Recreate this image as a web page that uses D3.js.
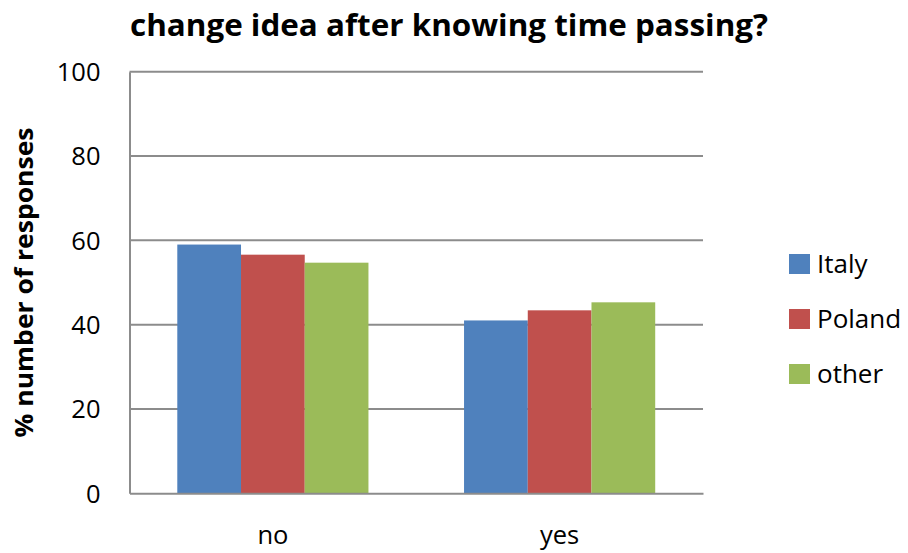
<!DOCTYPE html>
<html>
<head>
<meta charset="utf-8">
<script src="https://cdn.jsdelivr.net/npm/d3@7"></script>
<style>
  html, body { margin: 0; padding: 0; background: #fff; }
  svg { display: block; font-family: "Open Sans", "Liberation Sans", sans-serif; }
</style>
</head>
<body>
<svg id="chart" width="908" height="553"></svg>
<script>
const categories = ["no", "yes"];
const seriesNames = ["Italy", "Poland", "other"];
const italy = [59.0, 41.0];
const poland = [56.6, 43.4];
const other = [54.7, 45.3];
const yTicks = [0, 20, 40, 60, 80, 100];
const colors = ["#4f81bd", "#c0504d", "#9bbb59"];
const titleText = "change idea after knowing time passing?";
const yLabel = "% number of responses";

const seriesValues = [italy, poland, other];

const svg = d3.select("#chart");
const margin = { left: 129.5, right: 908 - 703, top: 71.7, bottom: 553 - 493.3 };
const W = 908, H = 553;

const x = d3.scaleBand().domain(categories).range([margin.left, W - margin.right]).paddingInner(0).paddingOuter(0);
const gapRatio = 1.5;
const x1 = d3.scaleBand().domain(seriesNames)
  .range([x.bandwidth() * (gapRatio / 2) / (3 + gapRatio), x.bandwidth() - x.bandwidth() * (gapRatio / 2) / (3 + gapRatio)]);
const y = d3.scaleLinear().domain([0, 100]).range([H - margin.bottom, margin.top]);

// gridlines
svg.append("g")
  .selectAll("line").data(yTicks.filter(d => d > 0)).join("line")
  .attr("x1", margin.left).attr("x2", W - margin.right)
  .attr("y1", d => y(d)).attr("y2", d => y(d))
  .attr("stroke", "#8c8c8c").attr("stroke-width", 2);

// bars
const groups = svg.append("g").selectAll("g").data(categories).join("g")
  .attr("transform", d => `translate(${x(d)},0)`);
groups.selectAll("rect")
  .data((c, ci) => seriesNames.map((s, si) => ({ s, si, v: seriesValues[si][ci] })))
  .join("rect")
  .attr("x", d => x1(d.s))
  .attr("width", x1.bandwidth())
  .attr("y", d => y(d.v))
  .attr("height", d => y(0) - y(d.v))
  .attr("fill", (d) => colors[d.si]);

// y axis
const yAxis = d3.axisLeft(y).tickValues(yTicks).tickSize(0).tickPadding(29).tickFormat(d3.format("d"));
const gy = svg.append("g").attr("transform", `translate(${margin.left},0)`).call(yAxis);
gy.select(".domain").attr("stroke", "#8c8c8c").attr("stroke-width", 2);
gy.selectAll("text").attr("font-size", 25.5).attr("fill", "#000").attr("font-family", "Open Sans").attr("dy", "0.35em");

// x axis
const xAxis = d3.axisBottom(x).tickSize(0).tickPadding(33);
const gx = svg.append("g").attr("transform", `translate(0,${y(0)})`).call(xAxis);
gx.select(".domain").attr("stroke", "#8c8c8c").attr("stroke-width", 2);
gx.selectAll("text").attr("font-size", 25.5).attr("fill", "#000").attr("font-family", "Open Sans");

// title
svg.append("text")
  .attr("x", 449).attr("y", 36)
  .attr("text-anchor", "middle")
  .attr("font-size", 30).attr("font-weight", "bold")
  .attr("textLength", 638).attr("lengthAdjust", "spacingAndGlyphs")
  .text(titleText);

// y label
svg.append("text")
  .attr("transform", `translate(33,${(y(0) + y(100)) / 2}) rotate(-90)`)
  .attr("text-anchor", "middle")
  .attr("font-size", 25).attr("font-weight", "bold")
  .attr("textLength", 310).attr("lengthAdjust", "spacingAndGlyphs")
  .text(yLabel);

// legend
const legendY = [264, 319, 374];
const legend = svg.append("g").selectAll("g").data(seriesNames).join("g")
  .attr("transform", (d, i) => `translate(789,${legendY[i]})`);
legend.append("rect").attr("x", 0).attr("y", -10).attr("width", 21).attr("height", 20)
  .attr("fill", (d, i) => colors[i]);
legend.append("text").attr("x", 28).attr("y", 0).attr("dy", "0.35em")
  .attr("font-size", 26).attr("fill", "#000")
  .text(d => d);
</script>
</body>
</html>
